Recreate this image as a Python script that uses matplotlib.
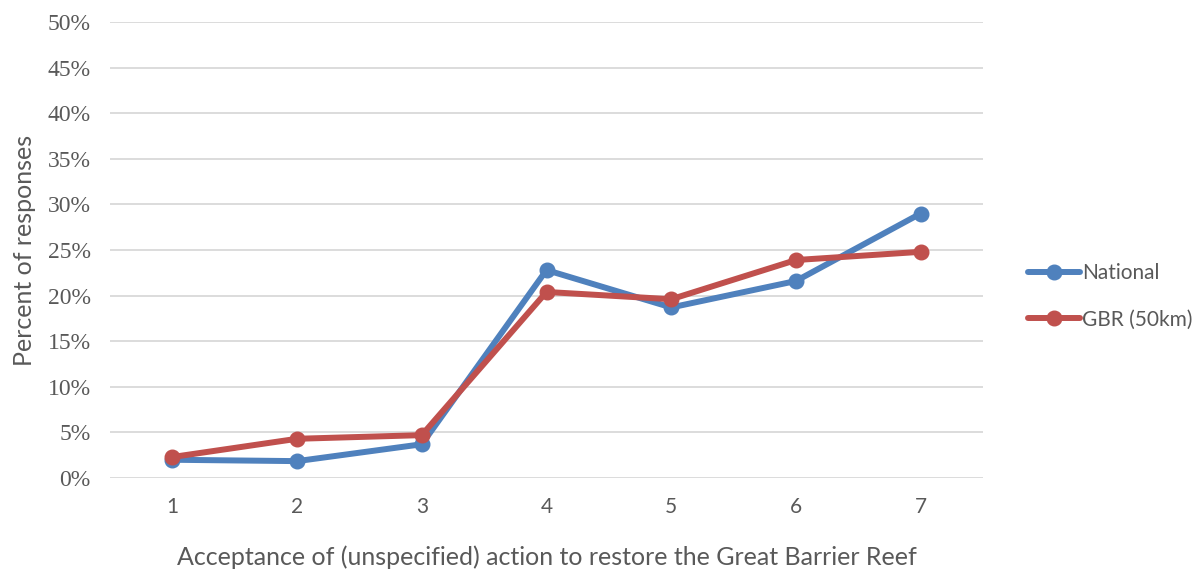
import numpy as np
import matplotlib.pyplot as plt
from matplotlib.ticker import PercentFormatter

# acceptance scale 1..7
categories = [1, 2, 3, 4, 5, 6, 7]
national = [2.0, 1.85, 3.7, 22.8, 18.7, 21.6, 29.0]
gbr = [2.3, 4.3, 4.7, 20.4, 19.6, 23.9, 24.8]

blue = '#4F81BD'
red = '#C0504D'
txt = '#595959'

fig = plt.figure(figsize=(12.03, 5.73), dpi=100)
ax = fig.add_axes([110/1203, 1-478/573, (983-110)/1203, (478-22)/573])

ax.plot(categories, national, color=blue, lw=4.3, marker='o', ms=10.5, label='National', solid_capstyle='round')
ax.plot(categories, gbr, color=red, lw=4.3, marker='o', ms=10.5, label='GBR (50km)', solid_capstyle='round')

ax.set_xlim(0.5, 7.5)
ax.set_ylim(0, 50)
ax.set_yticks(np.arange(0, 51, 5))
ax.yaxis.set_major_formatter(PercentFormatter(decimals=0))
ax.set_xticks(categories)
ax.grid(axis='y', color='#D9D9D9', lw=1.3)
ax.set_axisbelow(True)
for s in ax.spines.values():
    s.set_visible(False)
ax.tick_params(length=0)
ax.tick_params(axis='y', pad=14)
ax.tick_params(axis='x', pad=14)

for lab in ax.get_yticklabels():
    lab.set_fontfamily('Liberation Serif')
    lab.set_fontsize(17)
    lab.set_color(txt)
for lab in ax.get_xticklabels():
    lab.set_fontfamily('Lato')
    lab.set_fontsize(15)
    lab.set_color(txt)

ax.set_xlabel('Acceptance of (unspecified) action to restore the Great Barrier Reef',
              fontfamily='Lato', fontsize=18, color=txt, labelpad=20)
ax.set_ylabel('Percent of responses', fontfamily='Lato', fontsize=18, color=txt, labelpad=8)

leg = ax.legend(loc='center left', bbox_to_anchor=(1.03, 0.398), frameon=False,
                prop={'family': 'Lato', 'size': 15}, handlelength=2.5,
                handletextpad=0.1, labelspacing=1.25)
for t in leg.get_texts():
    t.set_color(txt)

fig.savefig('out.png', dpi=100)
